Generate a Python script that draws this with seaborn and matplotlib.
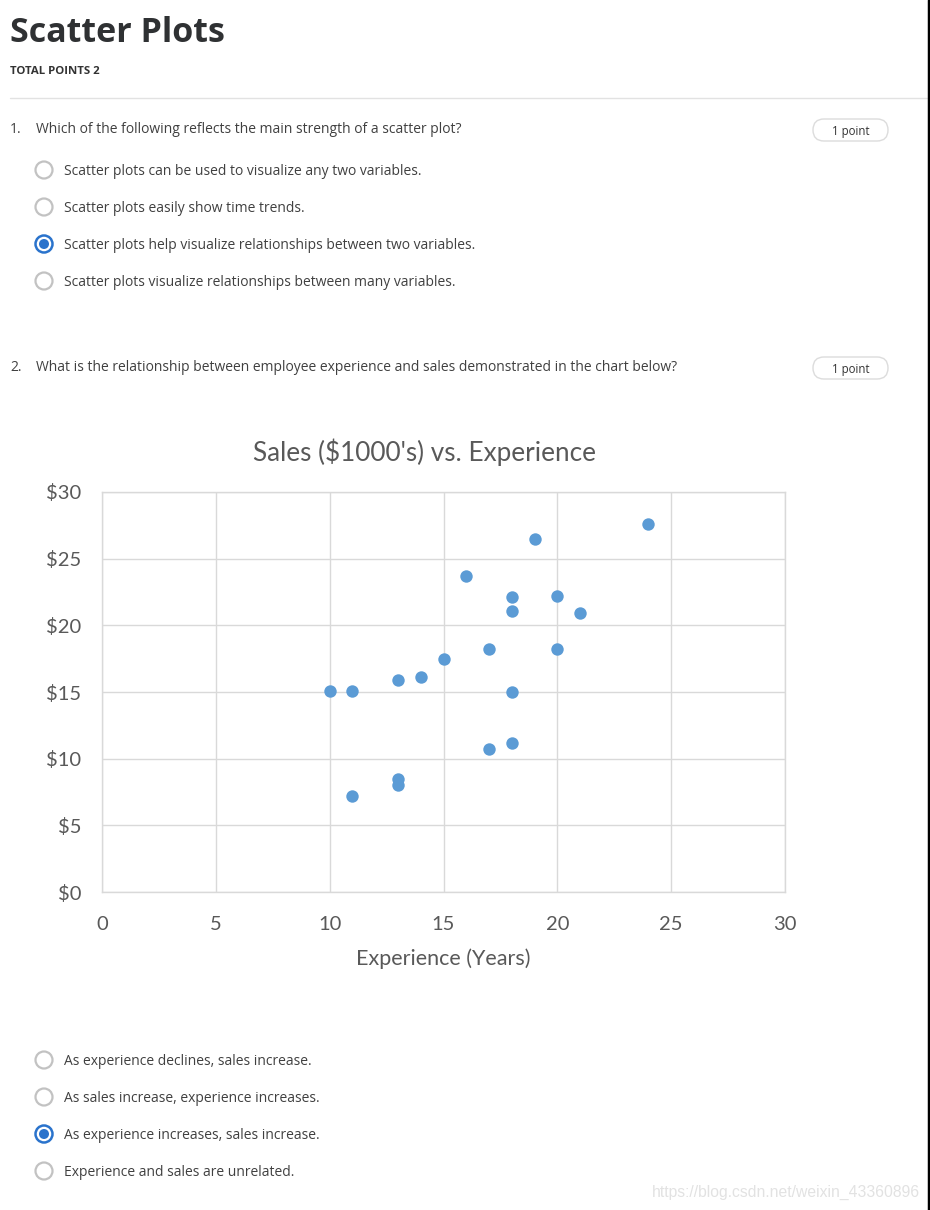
import matplotlib
matplotlib.use("Agg")
import matplotlib.pyplot as plt
import seaborn as sns
import pandas as pd
from matplotlib.patches import Circle, FancyBboxPatch
from matplotlib.ticker import FuncFormatter

# quiz text
page_title = "Scatter Plots"
total_points = "TOTAL POINTS 2"
q1 = "Which of the following reflects the main strength of a scatter plot?"
q1_options = [
    "Scatter plots can be used to visualize any two variables.",
    "Scatter plots easily show time trends.",
    "Scatter plots help visualize relationships between two variables.",
    "Scatter plots visualize relationships between many variables.",
]
q1_selected = 2
q2 = "What is the relationship between employee experience and sales demonstrated in the chart below?"
q2_options = [
    "As experience declines, sales increase.",
    "As sales increase, experience increases.",
    "As experience increases, sales increase.",
    "Experience and sales are unrelated.",
]
q2_selected = 2

# chart data
experience = [10, 11, 13, 14, 15, 16, 17, 17, 18, 18, 18, 18, 19, 20, 20, 21, 24, 11, 13, 13]
sales = [15.1, 15.1, 15.9, 16.1, 17.5, 23.7, 18.2, 10.7, 22.1, 21.1, 15.0, 11.2, 26.5, 22.2, 18.2, 20.9, 27.6, 7.2, 8.5, 8.0]
x_ticks = [0, 5, 10, 15, 20, 25, 30]
y_ticks = [0, 5, 10, 15, 20, 25, 30]

df = pd.DataFrame({"Experience": experience, "Sales": sales})

W, H = 930, 1210
sns.set_theme(style="white")
plt.rcParams["font.family"] = ["Open Sans", "DejaVu Sans"]

fig = plt.figure(figsize=(W / 100, H / 100), dpi=100)
fig.patch.set_facecolor("white")

# page overlay in pixel coordinates
bg = fig.add_axes([0, 0, 1, 1])
bg.set_xlim(0, W)
bg.set_ylim(H, 0)
bg.axis("off")

dark = "#333333"
text_c = "#404040"
blue = "#2a73cc"

bg.text(10, 33, page_title, fontsize=24.5, fontweight="bold", color="#2f3133", va="center", ha="left")
bg.text(10, 71, total_points, fontsize=8.2, fontweight="bold", color=dark, va="center", ha="left")
bg.plot([10, 927], [98, 98], color="#e2e2e2", lw=1)


def pill(y):
    box = FancyBboxPatch((813, y - 11), 75, 22, boxstyle="round,pad=0,rounding_size=11",
                         fc="white", ec="#dcdcdc", lw=1)
    bg.add_patch(box)
    bg.text(850.5, y + 1, "1 point", fontsize=8.3, color=dark, ha="center", va="center")


def question(y, num, txt):
    bg.text(10, y + 1.5, f"{num}.", fontsize=10, color=text_c, ha="left", va="center")
    bg.text(36, y + 1.5, txt, fontsize=10, color=text_c, ha="left", va="center")
    pill(y + 2)


def options(y0, opts, sel):
    for i, o in enumerate(opts):
        y = y0 + i * 37
        if i == sel:
            bg.add_patch(Circle((44, y), 8.5, fc="white", ec=blue, lw=1.8))
            bg.add_patch(Circle((44, y), 5, fc=blue, ec="none"))
        else:
            bg.add_patch(Circle((44, y), 8.5, fc="white", ec="#c2c2c2", lw=1.6))
        bg.text(64, y + 1.5, o, fontsize=10, color=text_c, ha="left", va="center")


question(128, 1, q1)
options(170, q1_options, q1_selected)
question(366, 2, q2)
options(1060, q2_options, q2_selected)

bg.text(920, 1192, "https://blog.csdn.net/weixin_43360896", fontsize=11.3, color="#e2e2e2",
        ha="right", va="center", family=["Liberation Sans", "DejaVu Sans"])
bg.plot([929, 929], [0, H], color="black", lw=2.5)

# scatter chart
chart_font = ["Lato", "DejaVu Sans"]
grey = "#595959"
grid_c = "#d9d9d9"
ax = fig.add_axes([102 / W, (H - 892) / H, 683 / W, 400 / H])
sns.scatterplot(data=df, x="Experience", y="Sales", ax=ax, color="#5b9bd5", s=80,
                linewidth=0, zorder=3)
ax.set_xlim(0, 30)
ax.set_ylim(0, 30)
ax.set_xticks(x_ticks)
ax.set_yticks(y_ticks)
ax.yaxis.set_major_formatter(FuncFormatter(lambda v, p: f"${int(v)}"))
ax.grid(True, color=grid_c, lw=1)
for s in ax.spines.values():
    s.set_color(grid_c)
    s.set_linewidth(1)
ax.tick_params(length=0, labelsize=14.5, labelcolor=grey, pad=15)
ax.tick_params(axis="x", pad=17)
for lab in ax.get_xticklabels() + ax.get_yticklabels():
    lab.set_family(chart_font)
ax.set_ylabel("")
ax.set_xlabel("Experience (Years)", fontsize=15.5, color=grey, family=chart_font, labelpad=11.5)
bg.text(424, 452, "Sales ($1000's) vs. Experience", fontsize=18.8, color=grey,
        ha="center", va="center", family=chart_font)

fig.savefig("out.png", dpi=100, facecolor="white")
